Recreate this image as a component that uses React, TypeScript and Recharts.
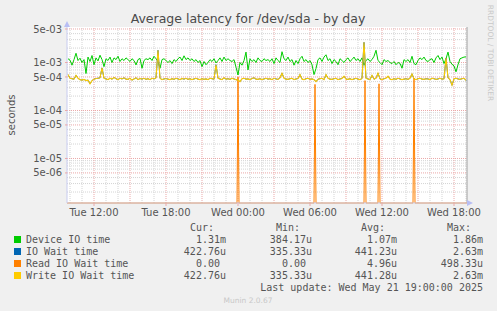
import React from "react";
import { LineChart, Line, XAxis, YAxis, CartesianGrid, ReferenceLine } from "recharts";

// samples every 10 minutes, minutes counted from Tue 00:00
const START_MIN = 590;
const STEP_MIN = 10;
const X_MIN = 585;
const X_MAX = 2585;
const Y_MIN = 1.18e-6;
const Y_MAX = 5.5e-3;

// Device IO time, microseconds
const deviceIoUs = [
  1200, 1120, 880, 1150, 1560, 1100, 1230, 1000, 1150, 590,
  1300, 1050, 1400, 900, 1250, 1080, 1420, 1150, 820, 1200,
  1100, 1300, 1000, 1250, 1150, 1350, 1050, 1200, 1100, 1250,
  1150, 1050, 1200, 1100, 890, 1150, 1220, 760, 1100, 1200,
  1150, 1250, 1100, 1350, 1200, 1050, 760, 1150, 1200, 1100,
  1000, 1100, 950, 1150, 1050, 1200, 1300, 1100, 1380, 1150,
  1250, 1100, 1200, 1050, 1150, 1000, 1100, 820, 1050, 900,
  1000, 1150, 1050, 1200, 980, 1100, 1250, 1050, 1300, 1100,
  1200, 1100, 1050, 1150, 800, 550, 1000, 880, 1100, 1650,
  700, 1200, 1050, 1150, 1000, 1250, 1100, 1050, 1200, 1100,
  1150, 1050, 1200, 950, 1250, 1100, 1000, 1680, 1200, 1100,
  1300, 1050, 1150, 880, 1100, 950, 1200, 1350, 1050, 1150,
  1000, 1100, 900, 560, 750, 1150, 1250, 1050, 1300, 1450,
  1100, 1200, 950, 1150, 1050, 900, 1200, 1100, 1000, 1150,
  1250, 1050, 1150, 1300, 1100, 1200, 1050, 1250, 880, 1100,
  1200, 1050, 1150, 1350, 1800, 1100, 1000, 900, 1150, 1050,
  1100, 1000, 950, 1050, 900, 1000, 960, 760, 1150, 1050,
  1150, 1000, 1350, 950, 900, 1100, 1250, 1150, 1300, 1100,
  1050, 1150, 1200, 1000, 1250, 1400, 1150, 1300, 950, 1200,
  1650, 1050, 920, 850, 640, 900, 1200, 1250, 1300, 1310,
];

// Write IO wait time, microseconds
const writeWaitUs = [
  560, 470, 460, 450, 540, 470, 440, 430, 445, 420,
  430, 360, 420, 450, 465, 470, 480, 770, 470, 455,
  440, 470, 450, 490, 460, 440, 470, 455, 480, 450,
  445, 470, 430, 455, 480, 440, 465, 450, 470, 445,
  460, 440, 470, 455, 480, 1800, 470, 440, 455, 465,
  450, 440, 460, 445, 470, 455, 440, 465, 450, 470,
  445, 460, 440, 455, 470, 450, 440, 460, 445, 455,
  440, 470, 460, 450, 900, 470, 455, 440, 480, 450,
  460, 445, 470, 455, 440, 430, 400, 460, 470, 450,
  455, 440, 465, 480, 450, 445, 460, 440, 455, 470,
  450, 460, 440, 470, 455, 445, 480, 600, 470, 450,
  445, 460, 470, 440, 455, 465, 560, 450, 440, 460,
  470, 445, 455, 440, 400, 450, 460, 470, 440, 560,
  470, 450, 445, 460, 470, 440, 455, 465, 520, 450,
  445, 460, 440, 455, 470, 450, 440, 465, 2630, 470,
  455, 440, 540, 450, 470, 600, 455, 440, 460, 470,
  520, 450, 440, 460, 445, 470, 455, 440, 450, 460,
  445, 470, 580, 455, 440, 460, 470, 450, 445, 460,
  455, 440, 470, 460, 445, 455, 470, 450, 460, 1240,
  480, 440, 335, 460, 470, 455, 445, 460, 470, 423,
];

// IO wait time follows write wait time in the picture
const ioWaitUs = writeWaitUs;

// Read IO wait time: zero except for a few single-sample spikes
const readTimes = [585, 1435, 1440, 1445, 1820, 1825, 1830, 2070, 2075, 2080, 2140, 2145, 2150, 2315, 2320, 2325, 2585];
const readUs = [0, 0, 498, 0, 0, 350, 0, 0, 420, 0, 0, 360, 0, 0, 470, 0, 0];

const xTicks = [720, 1080, 1440, 1800, 2160, 2520];
const yTicks = [5e-6, 1e-5, 5e-5, 1e-4, 5e-4, 1e-3, 5e-3];

const legendRows = [
  { name: "Device IO time", color: "#00CC00", cur: "1.31m", min: "384.17u", avg: "1.07m", max: "1.86m" },
  { name: "IO Wait time", color: "#0066B3", cur: "422.76u", min: "335.33u", avg: "441.23u", max: "2.63m" },
  { name: "Read IO Wait time", color: "#FF8000", cur: "0.00", min: "0.00", avg: "4.96u", max: "498.33u" },
  { name: "Write IO Wait time", color: "#FFCC00", cur: "422.76u", min: "335.33u", avg: "441.28u", max: "2.63m" },
];

const table = deviceIoUs.map((v, i) => ({
  t: START_MIN + STEP_MIN * i,
  device: v * 1e-6,
  io: ioWaitUs[i] * 1e-6,
  write: writeWaitUs[i] * 1e-6,
}));
const readData = readTimes.map((t, i) => ({ t, read: readUs[i] > 0 ? readUs[i] * 1e-6 : Y_MIN }));

// grid positions
const majorY = yTicks;
const minorY: number[] = [];
for (let e = -6; e <= -3; e++) {
  for (let m = 2; m <= 9; m++) {
    const v = m * Math.pow(10, e);
    if (m !== 5 && v > Y_MIN && v < Y_MAX) minorY.push(v);
  }
}
const majorX: number[] = [];
const minorX: number[] = [];
for (let t = 600; t < X_MAX; t += 60) (t % 180 === 0 ? majorX : minorX).push(t);

const fmtY = (v: number) => {
  const e = Math.floor(Math.log10(v) + 1e-9);
  const m = Math.round(v / Math.pow(10, e));
  return `${m}e-${String(-e).padStart(2, "0")}`;
};
const fmtX = (t: number) => `${t < 1440 ? "Tue" : "Wed"} ${String(Math.floor((t % 1440) / 60)).padStart(2, "0")}:00`;

const SANS = "'DejaVu Sans', sans-serif";
const MONO = "'DejaVu Sans Mono', monospace";
const TXT = "#555555";
const MINOR = "#D4D4D4";
const MAJOR = "#EBA8A8";

export default function App() {
  const colEnds = [226, 312, 397, 483];
  return (
    <div style={{ position: "absolute", left: 0, top: 0, width: 497, height: 311, background: "#F0F0F0", overflow: "hidden" }}>
      <LineChart width={497} height={311} data={table} margin={{ top: 27, right: 30, bottom: 78, left: 7 }}>
        <CartesianGrid fill="#FFFFFF" horizontal={false} vertical={false} />
        {minorX.map((t) => (
          <ReferenceLine key={`mx${t}`} x={t} stroke={MINOR} strokeDasharray="1 1" />
        ))}
        {minorY.map((v) => (
          <ReferenceLine key={`my${v}`} y={v} stroke={MINOR} strokeDasharray="1 1" />
        ))}
        {majorX.map((t) => (
          <ReferenceLine key={`Mx${t}`} x={t} stroke={MAJOR} strokeDasharray="1 1" />
        ))}
        {majorY.map((v) => (
          <ReferenceLine key={`My${v}`} y={v} stroke={MAJOR} strokeDasharray="1 1" />
        ))}
        <XAxis
          dataKey="t"
          type="number"
          domain={[X_MIN, X_MAX]}
          ticks={xTicks}
          interval={0}
          tickFormatter={fmtX}
          height={30}
          tickSize={3}
          tickMargin={3}
          tickLine={{ stroke: MAJOR }}
          axisLine={{ stroke: "#C8CCF0" }}
          tick={{ fill: TXT, fontSize: 10, fontFamily: SANS }}
        />
        <YAxis
          type="number"
          scale="log"
          domain={[Y_MIN, Y_MAX]}
          ticks={yTicks}
          interval={0}
          tickFormatter={fmtY}
          width={60}
          tickSize={2}
          tickMargin={3}
          tickLine={{ stroke: MAJOR }}
          axisLine={{ stroke: "#C8CCF0" }}
          tick={{ fill: TXT, fontSize: 10, fontFamily: SANS }}
        />
        <ReferenceLine x={X_MAX} stroke="#A0A0A0" />
        <Line dataKey="device" stroke="#00CC00" strokeWidth={1} dot={false} isAnimationActive={false} />
        <Line dataKey="io" stroke="#0066B3" strokeWidth={1} dot={false} isAnimationActive={false} />
        <Line data={readData} dataKey="read" stroke="#FF8000" strokeWidth={1} dot={false} isAnimationActive={false} />
        <Line dataKey="write" stroke="#FFCC00" strokeWidth={1.1} dot={false} isAnimationActive={false} />
      </LineChart>

      <svg width={497} height={311} style={{ position: "absolute", left: 0, top: 0, pointerEvents: "none" }}>
        <text x={248} y={23} textAnchor="middle" fontFamily={SANS} fontSize={12.5} fill="#4A4A4A">
          Average latency for /dev/sda - by day
        </text>
        <text transform="translate(490,53) rotate(90)" textAnchor="middle" dominantBaseline="central" fontFamily={SANS} fontSize={7.5} fill="#C8C8C8">
          RRDTOOL / TOBI OETIKER
        </text>
        <text transform="translate(11,115) rotate(-90)" textAnchor="middle" dominantBaseline="central" fontFamily={SANS} fontSize={10} fill={TXT}>
          seconds
        </text>
        <polygon points="64,27 70,27 67,21" fill="#B8BEF4" />
        <polygon points="467,200 467,206 473,203" fill="#B8BEF4" />

        {["Cur:", "Min:", "Avg:", "Max:"].map((h, i) => (
          <text key={h} x={colEnds[i] - 12} y={231} textAnchor="end" fontFamily={MONO} fontSize={10} fill={TXT}>
            {h}
          </text>
        ))}
        {legendRows.map((r, ri) => {
          const y = 243 + ri * 12;
          const vals = [r.cur, r.min, r.avg, r.max];
          return (
            <g key={r.name}>
              <rect x={14} y={y - 7} width={7} height={7} fill={r.color} />
              <text x={26} y={y} fontFamily={MONO} fontSize={10} fill={TXT}>
                {r.name}
              </text>
              {vals.map((v, ci) => (
                <text key={ci} x={colEnds[ci] - (/[mu]$/.test(v) ? 0 : 6)} y={y} textAnchor="end" fontFamily={MONO} fontSize={10} fill={TXT}>
                  {v}
                </text>
              ))}
            </g>
          );
        })}
        <text x={483} y={291} textAnchor="end" fontFamily={MONO} fontSize={10} fill={TXT}>
          Last update: Wed May 21 19:00:00 2025
        </text>
        <text x={248} y={303} textAnchor="middle" fontFamily={SANS} fontSize={7.5} fill="#C8C8C8">
          Munin 2.0.67
        </text>
      </svg>
    </div>
  );
}
